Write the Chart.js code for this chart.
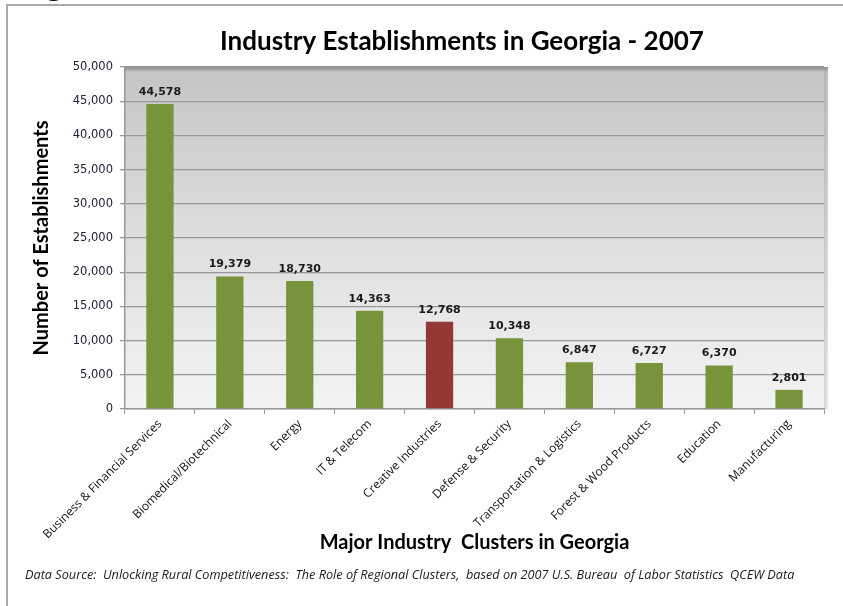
<!DOCTYPE html>
<html>
<head>
<meta charset="utf-8">
<title>Industry Establishments in Georgia - 2007</title>
<script src="https://cdn.jsdelivr.net/npm/chart.js@4.4.0/dist/chart.umd.min.js"></script>
<style>
    body { margin: 0; background: #ffffff; }
    #grafica { position: relative; width: 843px; height: 606px; }
</style>
</head>
<body>
<div id="grafica"><canvas id="myChart"></canvas></div>
<script>
// Clusters y numero de establecimientos (2007)
const clusters = [
    'Business & Financial Services',
    'Biomedical/Biotechnical',
    'Energy',
    'IT & Telecom',
    'Creative Industries',
    'Defense & Security',
    'Transportation & Logistics',
    'Forest & Wood Products',
    'Education',
    'Manufacturing'
];
const establecimientos = [44578, 19379, 18730, 14363, 12768, 10348, 6847, 6727, 6370, 2801];
const destacado = 'Creative Industries';

// Eje Y: 0 a 50,000 de 5,000 en 5,000
const yMin = 0;
const yMax = 50000;
const yPaso = 5000;

const titulo = 'Industry Establishments in Georgia - 2007';
const tituloX = 'Major Industry  Clusters in Georgia';
const tituloY = 'Number of Establishments';
const fuente = 'Data Source:  Unlocking Rural Competitiveness:  The Role of Regional Clusters,  based on 2007 U.S. Bureau  of Labor Statistics  QCEW Data';

const VERDE = '#77933c';
const ROJO = '#953735';
const GRIS = '#979797';

function formatoNumero(v){
    return new Intl.NumberFormat('en-US').format(v);
}

// Marco, fondo degradado del area de trazado y su sombra
const fondo = {
    id: 'fondo',
    beforeDraw(chart){
        const {ctx, chartArea: a} = chart;
        ctx.save();

        ctx.font = '36px "Liberation Serif"';
        ctx.fillStyle = '#000';
        ctx.textBaseline = 'alphabetic';
        ctx.fillText('Figure', 15, -7);

        ctx.strokeStyle = '#a9a9a9';
        ctx.lineWidth = 2;
        ctx.strokeRect(7, 5, 900, 700);

        const g = ctx.createLinearGradient(0, a.top, 0, a.bottom);
        g.addColorStop(0, '#c4c4c4');
        g.addColorStop(0.5, '#dedede');
        g.addColorStop(1, '#f3f3f3');
        ctx.fillStyle = g;
        ctx.fillRect(a.left, a.top, a.right - a.left + 4, a.bottom - a.top);

        // sombra arriba
        const s = ctx.createLinearGradient(0, a.top, 0, a.top + 5);
        s.addColorStop(0, 'rgba(90,90,90,0.55)');
        s.addColorStop(1, 'rgba(90,90,90,0)');
        ctx.fillStyle = s;
        ctx.fillRect(a.left, a.top, a.right - a.left + 4, 5);

        // sombra derecha
        const d = ctx.createLinearGradient(a.right, 0, a.right + 5, 0);
        d.addColorStop(0, 'rgba(150,150,150,0.35)');
        d.addColorStop(1, 'rgba(150,150,150,0)');
        ctx.fillStyle = d;
        ctx.fillRect(a.right, a.top, 5, a.bottom - a.top);

        // titulo y fuente de datos
        ctx.fillStyle = '#000';
        ctx.textBaseline = 'middle';
        ctx.textAlign = 'center';
        ctx.font = 'bold 26px Lato';
        ctx.fillText(titulo, 462, 42);

        ctx.textAlign = 'left';
        ctx.fillStyle = '#1a1a1a';
        ctx.font = 'italic 12.7px "Open Sans"';
        ctx.fillText(fuente, 25, 575);
        ctx.restore();
    }
};

// Numero encima de cada barra
const etiquetas = {
    id: 'etiquetas',
    afterDatasetsDraw(chart){
        const {ctx} = chart;
        const meta = chart.getDatasetMeta(0);
        ctx.save();
        ctx.font = 'bold 11px "DejaVu Sans"';
        ctx.fillStyle = '#1a1a1a';
        ctx.textAlign = 'center';
        ctx.textBaseline = 'middle';
        meta.data.forEach((barra, i) => {
            const v = chart.data.datasets[0].data[i];
            ctx.fillText(formatoNumero(v), barra.x, barra.y - 12);
        });
        ctx.restore();
    }
};

const ctx = document.getElementById('myChart');

new Chart(ctx, {
    type: 'bar',
    data: {
        labels: clusters,
        datasets: [{
            label: tituloY,
            data: establecimientos,
            backgroundColor: clusters.map(c => c === destacado ? ROJO : VERDE),
            borderWidth: 0,
            barPercentage: 0.39,
            categoryPercentage: 1
        }]
    },
    options: {
        responsive: true,
        maintainAspectRatio: false,
        animation: false,
        layout: {
            padding: {left: 20, right: 19, top: 67, bottom: 45}
        },
        plugins: {
            legend: {display: false},
            tooltip: {enabled: false}
        },
        scales: {
            x: {
                grid: {
                    display: true,
                    drawOnChartArea: false,
                    drawTicks: true,
                    tickLength: 5,
                    color: GRIS
                },
                border: {color: GRIS, width: 1.5},
                ticks: {
                    minRotation: 45,
                    maxRotation: 45,
                    padding: 3,
                    color: '#111111',
                    font: {family: 'Open Sans', size: 12}
                },
                title: {
                    display: true,
                    text: tituloX,
                    color: '#000',
                    font: {family: 'Lato', size: 20, weight: 'bold'},
                    padding: {top: 0, bottom: 6}
                },
                afterFit(scale){ scale.height = 152; }
            },
            y: {
                min: yMin,
                max: yMax,
                grid: {
                    color: GRIS,
                    lineWidth: 1.3,
                    tickLength: 5
                },
                border: {color: GRIS, width: 1.5},
                ticks: {
                    stepSize: yPaso,
                    padding: 7,
                    color: '#22223a',
                    font: {family: 'DejaVu Sans', size: 11.5},
                    callback: v => formatoNumero(v)
                },
                title: {
                    display: true,
                    text: tituloY,
                    color: '#000',
                    font: {family: 'Lato', size: 20, weight: 'bold'},
                    padding: {top: 10, bottom: 0}
                },
                afterFit(scale){ scale.width = 105; }
            }
        }
    },
    plugins: [fondo, etiquetas]
});
</script>
</body>
</html>
